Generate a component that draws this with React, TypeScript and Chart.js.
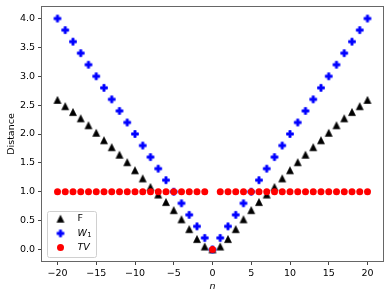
import React, { useEffect, useRef } from "react";
import { Chart, registerables } from "chart.js";

Chart.register(...registerables);

const nValues = [-20, -19, -18, -17, -16, -15, -14, -13, -12, -11, -10, -9, -8, -7, -6, -5, -4, -3, -2, -1, 0, 1, 2, 3, 4, 5, 6, 7, 8, 9, 10, 11, 12, 13, 14, 15, 16, 17, 18, 19, 20];
const fValues = [2.59, 2.48, 2.38, 2.27, 2.15, 2.02, 1.89, 1.77, 1.64, 1.51, 1.37, 1.23, 1.08, 0.95, 0.82, 0.68, 0.52, 0.35, 0.18, 0.05, 0, 0.05, 0.18, 0.35, 0.52, 0.68, 0.82, 0.95, 1.08, 1.23, 1.37, 1.51, 1.64, 1.77, 1.89, 2.02, 2.15, 2.27, 2.38, 2.48, 2.59];
const w1Values = [4.0, 3.8, 3.6, 3.4, 3.2, 3.0, 2.8, 2.6, 2.4, 2.2, 2.0, 1.8, 1.6, 1.4, 1.2, 1.0, 0.8, 0.6, 0.4, 0.2, 0, 0.2, 0.4, 0.6, 0.8, 1.0, 1.2, 1.4, 1.6, 1.8, 2.0, 2.2, 2.4, 2.6, 2.8, 3.0, 3.2, 3.4, 3.6, 3.8, 4.0];
const tvValues = [1, 1, 1, 1, 1, 1, 1, 1, 1, 1, 1, 1, 1, 1, 1, 1, 1, 1, 1, 1, 0, 1, 1, 1, 1, 1, 1, 1, 1, 1, 1, 1, 1, 1, 1, 1, 1, 1, 1, 1, 1];
const xTicks = [-20, -15, -10, -5, 0, 5, 10, 15, 20];
const yTicks = [0, 0.5, 1.0, 1.5, 2.0, 2.5, 3.0, 3.5, 4.0];

const FONT = "DejaVu Sans";
const FS = 9.5;
const MS = 7;

function makeTriangle(color: string) {
  const c = document.createElement("canvas");
  c.width = 10; c.height = 10;
  const ctx = c.getContext("2d")!;
  const h = MS / 2;
  ctx.beginPath();
  ctx.moveTo(5, 5 - h);
  ctx.lineTo(5 + h, 5 + h);
  ctx.lineTo(5 - h, 5 + h);
  ctx.closePath();
  ctx.fillStyle = color; ctx.fill();
  ctx.strokeStyle = color; ctx.lineWidth = 0.6; ctx.stroke();
  return c;
}

function makePlus(color: string) {
  const c = document.createElement("canvas");
  c.width = 10; c.height = 10;
  const ctx = c.getContext("2d")!;
  const a = MS / 6, b = MS / 2;
  const pts = [[-a, -b], [a, -b], [a, -a], [b, -a], [b, a], [a, a], [a, b], [-a, b], [-a, a], [-b, a], [-b, -a], [-a, -a]];
  ctx.beginPath();
  pts.forEach(([x, y], i) => (i === 0 ? ctx.moveTo(5 + x, 5 + y) : ctx.lineTo(5 + x, 5 + y)));
  ctx.closePath();
  ctx.fillStyle = color; ctx.fill();
  ctx.strokeStyle = color; ctx.lineWidth = 0.6; ctx.stroke();
  return c;
}

const fmtX = (v: number) => (v < 0 ? "\u2212" + Math.abs(v) : String(v));

export default function App() {
  const ref = useRef<HTMLCanvasElement>(null);
  useEffect(() => {
    document.body.style.margin = "0";
    const tri = makeTriangle("#000000");
    const plus = makePlus("#0000ff");

    const framePlugin = {
      id: "frame",
      afterDatasetsDraw(chart: any) {
        const { ctx, chartArea: a } = chart;
        ctx.save();
        ctx.strokeStyle = "#666";
        ctx.lineWidth = 1;
        ctx.strokeRect(Math.round(a.left) - 0.5, Math.round(a.top) - 0.5, Math.round(a.right - a.left) + 1, Math.round(a.bottom - a.top) + 1);
        ctx.restore();
      },
      afterDraw(chart: any) {
        const { ctx, chartArea: a } = chart;
        const w = 49, h = 46;
        const bx = a.left + 5, by = a.bottom - 4 - h;
        ctx.save();
        ctx.beginPath();
        (ctx as any).roundRect(bx + 0.5, by + 0.5, w, h, 2);
        ctx.fillStyle = "rgba(255,255,255,0.8)";
        ctx.fill();
        ctx.strokeStyle = "#d0d0d0";
        ctx.lineWidth = 1;
        ctx.stroke();
        const mx = bx + 13.5, tx = bx + 30.5;
        const rows = [by + 7.8, by + 22.4, by + 36.6];
        ctx.drawImage(tri, mx - 5, rows[0] - 5);
        ctx.drawImage(plus, mx - 5, rows[1] - 5);
        ctx.beginPath();
        ctx.arc(mx, rows[2], MS / 2, 0, Math.PI * 2);
        ctx.fillStyle = "#ff0000"; ctx.fill();
        ctx.fillStyle = "#000";
        ctx.textBaseline = "middle";
        ctx.textAlign = "left";
        ctx.font = `${FS}px "${FONT}"`;
        ctx.fillText("F", tx, rows[0]);
        ctx.font = `italic ${FS}px "${FONT}"`;
        ctx.fillText("W", tx, rows[1]);
        const ww = ctx.measureText("W").width;
        ctx.font = `6.8px "${FONT}"`;
        ctx.fillText("1", tx + ww + 0.3, rows[1] + 2.2);
        ctx.font = `italic ${FS}px "${FONT}"`;
        ctx.fillText("TV", tx, rows[2]);
        ctx.restore();
      },
    };

    const chart = new Chart(ref.current!, {
      type: "scatter",
      data: {
        datasets: [
          {
            label: "F",
            data: nValues.map((n, i) => ({ x: n, y: fValues[i] })),
            pointStyle: tri as any,
            order: 3,
          },
          {
            label: "W1",
            data: nValues.map((n, i) => ({ x: n, y: w1Values[i] })),
            pointStyle: plus as any,
            order: 2,
          },
          {
            label: "TV",
            data: nValues.map((n, i) => ({ x: n, y: tvValues[i] })),
            pointStyle: "circle",
            pointRadius: MS / 2,
            backgroundColor: "#ff0000",
            borderColor: "#ff0000",
            borderWidth: 0,
            order: 1,
          },
        ],
      },
      options: {
        animation: false,
        responsive: true,
        maintainAspectRatio: false,
        layout: { padding: { top: 7, right: 8, left: 0, bottom: 0 } },
        plugins: { legend: { display: false }, tooltip: { enabled: false } },
        scales: {
          x: {
            type: "linear",
            min: -22,
            max: 22,
            afterBuildTicks: (s: any) => { s.ticks = xTicks.map((v) => ({ value: v })); },
            afterFit: (s: any) => { s.height = 37; s.paddingLeft = 0; s.paddingRight = 0; },
            ticks: { callback: (v: any) => fmtX(Number(v)), font: { family: FONT, size: FS }, color: "#000", padding: 3, maxRotation: 0, autoSkip: false },
            grid: { drawOnChartArea: false, drawTicks: true, tickLength: 4, tickColor: "#444", tickWidth: 1 },
            border: { display: false },
            title: { display: true, text: "n", font: { family: FONT, size: FS, style: "italic" }, color: "#000", padding: { top: 0, bottom: 6 } },
          },
          y: {
            type: "linear",
            min: -0.2,
            max: 4.2,
            afterBuildTicks: (s: any) => { s.ticks = yTicks.map((v) => ({ value: v })); },
            afterFit: (s: any) => { s.width = 42; s.paddingTop = 0; s.paddingBottom = 0; },
            ticks: { callback: (v: any) => Number(v).toFixed(1), font: { family: FONT, size: FS }, color: "#000", padding: 3 },
            grid: { drawOnChartArea: false, drawTicks: true, tickLength: 4, tickColor: "#444", tickWidth: 1 },
            border: { display: false },
            title: { display: true, text: "Distance", font: { family: FONT, size: FS }, color: "#000", padding: { top: 5.8, bottom: 0 } },
          },
        },
      },
      plugins: [framePlugin],
    });
    return () => chart.destroy();
  }, []);
  return (
    <div style={{ width: 391, height: 298, position: "relative" }}>
      <canvas ref={ref} />
    </div>
  );
}
